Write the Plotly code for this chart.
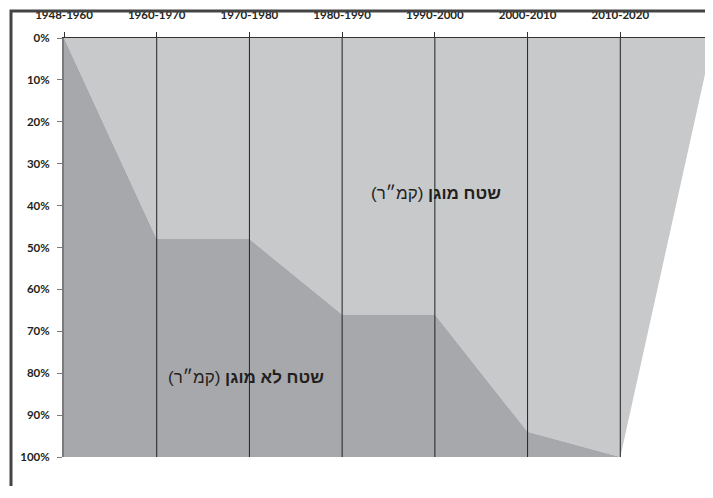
import plotly.graph_objects as go

categories = ["1948-1960", "1960-1970", "1970-1980", "1980-1990",
              "1990-2000", "2000-2010", "2010-2020", ""]
protected_pct = [0, 48, 48, 66, 66, 94, 100, 0]
unprotected_pct = [100, 52, 52, 34, 34, 6, 0, 0]
y_ticks = [0, 10, 20, 30, 40, 50, 60, 70, 80, 90, 100]
y_tick_labels = [f"{v}%" for v in y_ticks]

LIGHT = "#c8c9cb"
DARK = "#a7a8ab"
xpos = list(range(len(categories)))

# page body adds an 8px offset; figure sized so the page fits the window
W, H = 705, 478
L, R, T, B = 56, 0, 30, 29
pw, ph = W - L - R, H - T - B
def px(x):
    return (x - L) / pw
def py(y):
    return (H - B - y) / ph

fig = go.Figure()
fig.add_trace(go.Scatter(x=xpos, y=protected_pct, stackgroup="s", mode="lines",
                         line=dict(width=0), fillcolor=LIGHT, name="protected",
                         hoverinfo="skip"))
fig.add_trace(go.Scatter(x=xpos, y=unprotected_pct, stackgroup="s", mode="lines",
                         line=dict(width=0), fillcolor=DARK, name="unprotected",
                         hoverinfo="skip"))

# outer frame (only left and top edges fall inside the picture)
fig.add_shape(type="rect", xref="paper", yref="paper", x0=px(3), x1=px(W + 20),
              y0=py(H + 20), y1=py(3), line=dict(color="#444444", width=3),
              fillcolor="rgba(0,0,0,0)")

# vertical separators at each inner category
for i in range(1, len(categories) - 1):
    fig.add_shape(type="line", xref="x", yref="y", x0=i, x1=i, y0=0, y1=100,
                  line=dict(color="#222222", width=1), layer="above")

HEB = "Liberation Sans, DejaVu Sans, sans-serif"
fig.add_annotation(x=4.01, y=37, xref="x", yref="y", showarrow=False,
                   text="<b>שטח מוגן</b> <span style='font-size:17px'>(קמ״ר)</span>",
                   font=dict(family=HEB, size=17, color="#231f20"))
fig.add_annotation(x=1.96, y=81, xref="x", yref="y", showarrow=False,
                   text="<b>שטח לא מוגן</b> <span style='font-size:17px'>(קמ״ר)</span>",
                   font=dict(family=HEB, size=17, color="#231f20"))

TICKFONT = dict(family="Lato, Open Sans, sans-serif", size=11.5, color="#231f20")
fig.update_layout(
    width=W, height=H,
    margin=dict(l=L, r=R, t=T, b=B, autoexpand=False),
    paper_bgcolor="white", plot_bgcolor="white",
    showlegend=False,
    xaxis=dict(range=[0, 7], side="top", tickmode="array", tickvals=xpos,
               ticktext=[f"<b>{c}</b>" for c in categories], tickfont=TICKFONT,
               showgrid=False, zeroline=False, showline=True, linecolor="#333333",
               linewidth=1, ticks="outside", ticklen=5, tickcolor="#333333",
               layer="above traces", automargin=False, ticklabelstandoff=8),
    yaxis=dict(range=[100, 0], tickmode="array", tickvals=y_ticks,
               ticktext=[f"<b>{t}</b>" for t in y_tick_labels], tickfont=TICKFONT,
               showgrid=False, zeroline=False, showline=True, linecolor="#7a7a7c",
               linewidth=2, ticks="outside", ticklen=5, tickcolor="#7a7a7c",
               layer="above traces", automargin=False, ticklabelstandoff=5),
)

fig.write_html("out.html")
